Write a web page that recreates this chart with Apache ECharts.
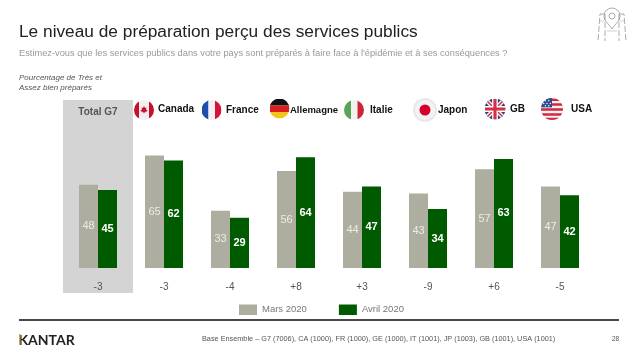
<!DOCTYPE html>
<html><head><meta charset="utf-8">
<style>html,body{margin:0;padding:0;background:#fff}#c{width:638px;height:359px}</style>
<script src="https://cdn.jsdelivr.net/npm/echarts@6/dist/echarts.min.js"></script>
</head><body><div id="c"></div>
<script>
const categories = ['Total G7','Canada','France','Allemagne','Italie','Japon','GB','USA'];
const mars2020 = [48,65,33,56,44,43,57,47];
const avril2020 = [45,62,29,64,47,34,63,42];
const deltas = ['-3','-3','-4','+8','+3','-9','+6','-5'];

const svg = (w,h,body)=>'data:image/svg+xml;charset=utf-8,'+encodeURIComponent(
 `<svg xmlns="http://www.w3.org/2000/svg" width="${w}" height="${h}" viewBox="0 0 ${w} ${h}">${body}</svg>`);
const disc = (id,body)=>svg(40,40,`<defs><clipPath id="${id}"><circle cx="20" cy="20" r="20"/></clipPath></defs><g clip-path="url(#${id})">${body}</g>`);
const flags = {
 Canada: disc('a','<rect width="40" height="40" fill="#f1efef"/><rect width="10" height="40" fill="#c8102e"/><rect x="30" width="10" height="40" fill="#c8102e"/><path d="M20 12l2 4 3-1-1 5 3 0-1 3-3 0 0 2-2.500-.5V27h-1v-2.500L17 25v-2h-3l-1-3 3 0-1-5 3 1z" fill="#c8102e"/>'),
 France: disc('b','<rect width="14" height="40" fill="#1f4fa8"/><rect x="14" width="13" height="40" fill="#f3f1f4"/><rect x="27" width="13" height="40" fill="#d5143a"/>'),
 Allemagne: disc('c','<rect width="40" height="14" fill="#111"/><rect y="14" width="40" height="13" fill="#d81e1e"/><rect y="27" width="40" height="13" fill="#f6c21c"/>'),
 Italie: disc('d','<rect width="14" height="40" fill="#5aa35a"/><rect x="14" width="13" height="40" fill="#f2f2ef"/><rect x="27" width="13" height="40" fill="#cf2338"/>'),
 Japon: svg(48,48,'<circle cx="24" cy="24" r="24" fill="#e8e8e8"/><circle cx="24" cy="24" r="20" fill="#f4f3f3"/><circle cx="24" cy="24" r="11" fill="#d6002a"/>'),
 GB: disc('e','<rect width="40" height="40" fill="#24427f"/><path d="M0 0L40 40M40 0L0 40" stroke="#fff" stroke-width="8"/><path d="M0 0L40 40M40 0L0 40" stroke="#d32f45" stroke-width="3"/><path d="M20 0V40M0 20H40" stroke="#fff" stroke-width="11"/><path d="M20 0V40M0 20H40" stroke="#d32f45" stroke-width="6"/>'),
 USA: disc('f','<rect width="40" height="40" fill="#f5f2f2"/><path d="M0 3h40M0 12h40M0 21h40M0 30h40M0 38h40" stroke="#d3263f" stroke-width="4.500"/><rect width="20" height="17" fill="#2b4a8f"/><g fill="#fff"><circle cx="8" cy="5" r="1.300"/><circle cx="14" cy="5" r="1.300"/><circle cx="5" cy="10" r="1.300"/><circle cx="11" cy="10" r="1.300"/><circle cx="17" cy="10" r="1.300"/><circle cx="8" cy="14" r="1.300"/><circle cx="14" cy="14" r="1.300"/></g>')
};
const pin = svg(30,36,'<g fill="none" stroke="#888" stroke-width=".7"><path d="M15 1a8 8 0 0 1 8 8c0 5-5 8-8 13-3-5-8-8-8-13a8 8 0 0 1 8-8z"/><circle cx="15" cy="9" r="3"/><path d="M7 7L3 7L1 34M23 7L27 7L29 34M8 7V34M22 7V34" stroke-dasharray="6 2"/><path d="M3 14H7M23 14H27M10 24H20" stroke="#bbb"/></g>');

const layoutHead = [
 {name:'Canada',fx:144,fy:110,r:10,tx:158,ty:109},
 {name:'France',fx:211.500,fy:110,r:10,tx:226,ty:110},
 {name:'Allemagne',fx:279.500,fy:108.500,r:10,tx:290,ty:110},
 {name:'Italie',fx:354,fy:110,r:10,tx:370,ty:110},
 {name:'Japon',fx:425,fy:110,r:12,tx:438,ty:110},
 {name:'GB',fx:495,fy:109,r:10.500,tx:510,ty:109},
 {name:'USA',fx:552,fy:109,r:11,tx:571,ty:109}
];
const T=(x,y,text,o)=>({type:'text',x,y,z:5,style:Object.assign({text,fontFamily:'Liberation Sans',verticalAlign:'middle',fill:'#222',fontSize:10},o)});
const graphics = [
 {type:'rect',x:63,y:100,z:-1,shape:{width:70,height:193},style:{fill:'#d4d4d5'}},
 T(98,112,categories[0],{fontWeight:'bold',fill:'#555',align:'center'}),
 T(19,78,'Pourcentage de Très et',{fontStyle:'italic',fontSize:8,fill:'#555'}),
 T(19,88,'Assez bien préparés',{fontStyle:'italic',fontSize:8,fill:'#555'}),
 {type:'image',x:597,y:7,z:5,style:{image:pin,width:30,height:36}},
 {type:'rect',x:19,y:319,shape:{width:600,height:2},style:{fill:'#484848'}},
 T(18.500,340,'KANTAR',{fontFamily:'Lato',fontWeight:'bold',fontSize:14,fill:'#222'}),
 {type:'rect',x:19,y:334,z:6,shape:{width:1.500,height:11},style:{fill:'#c9a84c'}},
 T(202,338.500,'Base Ensemble – G7 (7006), CA (1000), FR (1000), GE (1000), IT (1001), JP (1003), GB (1001), USA (1001)',{fontSize:7.300,fill:'#555'}),
 T(612,339,'28',{fontSize:6.500,fill:'#555'})
];
layoutHead.forEach(l=>{
 graphics.push({type:'image',x:l.fx-l.r,y:l.fy-l.r,z:5,style:{image:flags[l.name],width:2*l.r,height:2*l.r}});
 graphics.push(T(l.tx,l.ty,l.name,{fontWeight:'bold',fontSize:l.name==='Allemagne'?9.500:10,fill:'#111'}));
});

const chart = echarts.init(document.getElementById('c'),null,{renderer:'canvas'});
chart.setOption({
 animation:false,
 backgroundColor:'#fff',
 textStyle:{fontFamily:'Liberation Sans'},
 title:{left:19,top:24,padding:0,itemGap:8,
  text:'Le niveau de préparation perçu des services publics',
  textStyle:{fontFamily:'Liberation Sans',fontSize:17.300,fontWeight:'normal',color:'#222'},
  subtext:'Estimez-vous que les services publics dans votre pays sont préparés à faire face à l\'épidémie et à ses conséquences ?',
  subtextStyle:{fontFamily:'Liberation Sans',fontSize:9.270,color:'#999'}},
 grid:{left:65,width:528,top:94.800,height:173.200,containLabel:false},
 legend:{left:239,top:304.500,icon:'rect',itemWidth:18,itemHeight:10.500,itemGap:32,padding:0,
  textStyle:{fontFamily:'Liberation Sans',fontSize:9.500,color:'#777'},
  itemStyle:{borderWidth:0},
  data:['Mars 2020','Avril 2020']},
 xAxis:{type:'category',data:categories,
  axisLine:{show:false},axisTick:{show:false},splitLine:{show:false},
  axisLabel:{margin:14,fontSize:10,color:'#555',fontFamily:'Liberation Sans',interval:0,
   formatter:(v,i)=>deltas[i]}},
 yAxis:{type:'value',min:0,max:100,show:false},
 series:[
  {name:'Mars 2020',type:'bar',data:mars2020,barWidth:19,barGap:0,
   itemStyle:{color:'#adada0'},
   label:{show:true,position:'inside',fontSize:11,color:'#ecece6',fontFamily:'Liberation Sans'}},
  {name:'Avril 2020',type:'bar',data:avril2020,barWidth:19,barGap:0,
   itemStyle:{color:'#005a00'},
   label:{show:true,position:'inside',fontSize:11,fontWeight:'bold',color:'#fff',fontFamily:'Liberation Sans'}}
 ],
 graphic:{elements:graphics}
});
</script></body></html>
